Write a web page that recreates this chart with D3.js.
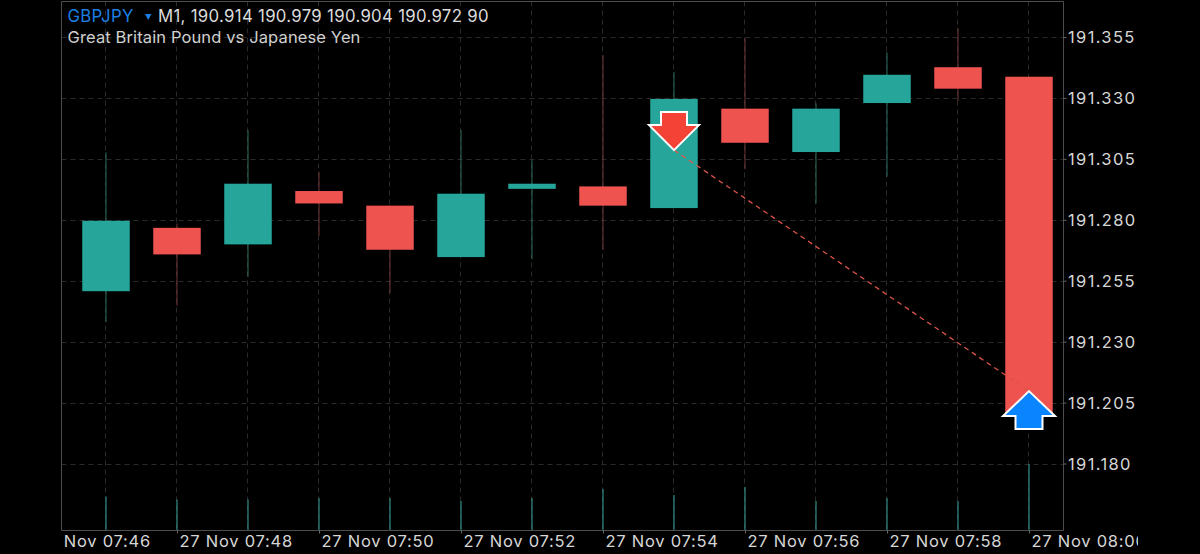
<!DOCTYPE html>
<html><head><meta charset="utf-8">
<script src="https://cdnjs.cloudflare.com/ajax/libs/d3/7.8.5/d3.min.js"></script>
<style>
html,body{margin:0;padding:0;background:#000;overflow:hidden}
svg{display:block}
text{font-family:Inter,"Noto Sans",sans-serif}
</style></head><body>
<svg id="c" width="1200" height="554"></svg>
<script>
const times=["07:47","07:48","07:49","07:50","07:51","07:52","07:53","07:54","07:55","07:56","07:57","07:58","07:59","08:00"];
const opens =[191.2507,191.2767,191.2699,191.2918,191.2858,191.2647,191.2927,191.2937,191.2848,191.3256,191.3078,191.3279,191.3426,191.3387];
const closes=[191.2796,191.2658,191.2948,191.2867,191.2677,191.2907,191.2948,191.2858,191.3296,191.3116,191.3256,191.3395,191.3338,191.1998];
const highs =[191.3077,191.2785,191.3168,191.2997,191.2858,191.3168,191.3045,191.3476,191.3406,191.3545,191.3278,191.3487,191.3586,191.3387];
const lows  =[191.2380,191.2447,191.2566,191.2734,191.2498,191.2647,191.2639,191.2676,191.2848,191.3008,191.2867,191.2977,191.3287,191.1998];
const volumes=[46,42,42,44,44,40,44,56,48,59,40,44,40,90];
const priceTicks=[191.355,191.330,191.305,191.280,191.255,191.230,191.205,191.180];
const timeTicks=["07:46","07:48","07:50","07:52","07:54","07:56","07:58","08:00"];
const sellTrade={time:"07:55",price:191.3086};
const buyTrade={time:"08:00",price:191.2097};
const symbol="GBPJPY";
const quoteLine="M1, 190.914 190.979 190.904 190.972 90";
const description="Great Britain Pound vs Japanese Yen";

const UP="#26a69a",DOWN="#ef5350";
const svg=d3.select("#c");
const parse=t=>d3.timeParse("%Y-%m-%d %H:%M")("2023-11-27 "+t);
const frame={l:61.5,r:1063.5,t:1.5,b:530.5};
const x=d3.scaleTime().domain([parse("07:46"),parse("08:00")]).range([35,1029]);
const y=d3.scaleLinear().domain([191.18,191.355]).range([463.5,37]);
const v=d3.scaleLinear().domain([0,90]).range([frame.b,464]);
const defs=svg.append("defs");
defs.append("clipPath").attr("id","plot").append("rect").attr("x",frame.l).attr("y",0).attr("width",frame.r-frame.l).attr("height",frame.b);
defs.append("clipPath").attr("id","xlab").append("rect").attr("x",61).attr("y",500).attr("width",1138-61).attr("height",54);

// grid
const grid=svg.append("g").attr("fill","none").attr("stroke","#2a2a2a").attr("stroke-width",1).attr("stroke-dasharray","5,4");
grid.selectAll(".h").data(priceTicks).join("line").attr("x1",frame.l).attr("x2",frame.r)
  .attr("y1",d=>Math.round(y(d))+.5).attr("y2",d=>Math.round(y(d))+.5);
grid.selectAll(".v").data(times).join("line").attr("y1",frame.t).attr("y2",frame.b)
  .attr("x1",d=>Math.round(x(parse(d)))-.5).attr("x2",d=>Math.round(x(parse(d)))-.5);

// volumes
svg.append("g").selectAll("line").data(volumes).join("line")
  .attr("x1",(d,i)=>Math.round(x(parse(times[i])))).attr("x2",(d,i)=>Math.round(x(parse(times[i]))))
  .attr("y1",d=>v(d)).attr("y2",frame.b).attr("stroke","#2f8c86").attr("stroke-width",1.2);

// candles
const bw=47.5;
const c=svg.append("g").attr("clip-path","url(#plot)");
const idx=d3.range(times.length);
c.selectAll(".w").data(idx).join("line")
  .attr("x1",i=>x(parse(times[i]))).attr("x2",i=>x(parse(times[i])))
  .attr("y1",i=>y(highs[i])).attr("y2",i=>y(lows[i])).attr("stroke-width",1)
  .attr("stroke",i=>closes[i]>=opens[i]?"#2a6b5f":"#6e3534");
c.selectAll(".b").data(idx).join("rect")
  .attr("x",i=>x(parse(times[i]))-bw/2).attr("width",bw)
  .attr("y",i=>y(Math.max(opens[i],closes[i])))
  .attr("height",i=>Math.abs(y(opens[i])-y(closes[i])))
  .attr("fill",i=>closes[i]>=opens[i]?UP:DOWN);

// trade connector
svg.append("line").attr("x1",x(parse(sellTrade.time))).attr("y1",y(sellTrade.price))
  .attr("x2",x(parse(buyTrade.time))).attr("y2",y(buyTrade.price))
  .attr("stroke","#dd5549").attr("stroke-width",1.3).attr("stroke-dasharray","5,4");

// frame
svg.append("path").attr("fill","none").attr("stroke","#4d4d4d").attr("stroke-width",1)
  .attr("d",`M${frame.l},${frame.b}V${frame.t}H${frame.r}V${frame.b}Z`);

// axes
const yAxis=d3.axisRight(y).tickValues(priceTicks).tickFormat(d3.format(".3f")).tickSize(3).tickPadding(2);
const ya=svg.append("g").attr("transform",`translate(${frame.r},0)`).call(yAxis);
const xAxis=d3.axisBottom(x).tickValues(timeTicks.map(parse)).tickFormat(d3.timeFormat("27 Nov %H:%M")).tickSize(3);
const xa=svg.append("g").attr("clip-path","url(#xlab)").append("g").attr("transform",`translate(0,${frame.b})`).call(xAxis);
[ya,xa].forEach(a=>{a.select(".domain").remove();a.selectAll("line").attr("stroke","#666");
  a.selectAll("text").attr("fill","#d6d6d6").attr("font-size",16.5).style("font-family","Inter,sans-serif");});
ya.selectAll("text").attr("letter-spacing","1.35px").attr("x",4.5).attr("dy","0.36em");
xa.selectAll("text").attr("letter-spacing","0.75px").attr("text-anchor","start").attr("x",2).attr("y",0).attr("dy",16.5);

// arrows
function sell(px,py){return `M${px},${py}L${px-25},${py-25}H${px-13}V${py-38}H${px+13}V${py-25}H${px+25}Z`;}
function buy(px,py){return `M${px},${py}L${px+26},${py+25}H${px+13.5}V${py+38}H${px-13.5}V${py+25}H${px-26}Z`;}
svg.append("path").attr("d",sell(x(parse(sellTrade.time)),y(sellTrade.price))).attr("fill","#f44336").attr("stroke","#fff").attr("stroke-width",2);
svg.append("path").attr("d",buy(x(parse(buyTrade.time)),y(buyTrade.price))).attr("fill","#0a84ff").attr("stroke","#fff").attr("stroke-width",2);

// header
svg.append("text").attr("x",67.5).attr("y",21.5).attr("fill","#1b7fe3").attr("font-size",16.8).attr("letter-spacing","0.3px").text(symbol);
svg.append("path").attr("d","M145,14H151.5L148.2,20Z").attr("fill","#1b7fe3");
svg.append("text").attr("x",158).attr("y",21.5).attr("fill","#dcdcdc").attr("font-size",16.8).attr("letter-spacing","0.3px").text(quoteLine);
svg.append("text").attr("x",67.5).attr("y",43).attr("fill","#d0d0d0").attr("font-size",16.5).attr("letter-spacing","0.12px").text(description);
</script>
</body></html>
